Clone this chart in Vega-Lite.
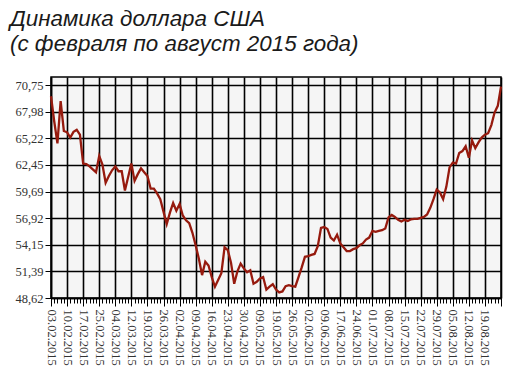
{
  "$schema": "https://vega.github.io/schema/vega-lite/v6.json",
  "width": 450,
  "height": 221,
  "autosize": "none",
  "padding": {"left": 51, "top": 77, "right": 19, "bottom": 92},
  "background": "white",
  "title": {
    "text": ["Динамика доллара США", "(с февраля по август 2015 года)"],
    "anchor": "start",
    "frame": "group",
    "dx": -41,
    "offset": 22,
    "font": "Liberation Sans",
    "fontStyle": "italic",
    "fontWeight": "normal",
    "fontSize": 22.4,
    "lineHeight": 25,
    "color": "#1a1a1a"
  },
  "config": {
    "view": {"fill": "#f5f5f5", "stroke": "#000000", "strokeWidth": 1.5}
  },
  "data": {
    "values": [
      {"date": "03.02.2015", "rate": 69.6},
      {"date": "04.02.2015", "rate": 67.0},
      {"date": "05.02.2015", "rate": 64.7},
      {"date": "06.02.2015", "rate": 69.1},
      {"date": "07.02.2015", "rate": 66.0},
      {"date": "10.02.2015", "rate": 65.85},
      {"date": "11.02.2015", "rate": 65.3},
      {"date": "12.02.2015", "rate": 65.9},
      {"date": "13.02.2015", "rate": 66.1},
      {"date": "14.02.2015", "rate": 65.6},
      {"date": "17.02.2015", "rate": 62.6},
      {"date": "18.02.2015", "rate": 62.55},
      {"date": "19.02.2015", "rate": 62.3},
      {"date": "20.02.2015", "rate": 62.0},
      {"date": "21.02.2015", "rate": 61.7},
      {"date": "25.02.2015", "rate": 63.4},
      {"date": "26.02.2015", "rate": 62.5},
      {"date": "27.02.2015", "rate": 60.6},
      {"date": "28.02.2015", "rate": 61.3},
      {"date": "03.03.2015", "rate": 61.9},
      {"date": "04.03.2015", "rate": 62.3},
      {"date": "05.03.2015", "rate": 61.8},
      {"date": "06.03.2015", "rate": 61.8},
      {"date": "07.03.2015", "rate": 59.8},
      {"date": "11.03.2015", "rate": 61.2},
      {"date": "12.03.2015", "rate": 62.6},
      {"date": "13.03.2015", "rate": 60.8},
      {"date": "14.03.2015", "rate": 61.5},
      {"date": "17.03.2015", "rate": 62.1},
      {"date": "18.03.2015", "rate": 61.7},
      {"date": "19.03.2015", "rate": 61.3},
      {"date": "20.03.2015", "rate": 60.0},
      {"date": "21.03.2015", "rate": 60.0},
      {"date": "24.03.2015", "rate": 59.5},
      {"date": "25.03.2015", "rate": 58.9},
      {"date": "26.03.2015", "rate": 57.6},
      {"date": "27.03.2015", "rate": 56.3},
      {"date": "28.03.2015", "rate": 57.5},
      {"date": "31.03.2015", "rate": 58.5},
      {"date": "01.04.2015", "rate": 57.7},
      {"date": "02.04.2015", "rate": 58.4},
      {"date": "03.04.2015", "rate": 57.2},
      {"date": "04.04.2015", "rate": 56.7},
      {"date": "07.04.2015", "rate": 56.4},
      {"date": "08.04.2015", "rate": 55.4},
      {"date": "09.04.2015", "rate": 54.1},
      {"date": "10.04.2015", "rate": 52.7},
      {"date": "11.04.2015", "rate": 51.0},
      {"date": "14.04.2015", "rate": 52.4},
      {"date": "15.04.2015", "rate": 52.0},
      {"date": "16.04.2015", "rate": 50.8},
      {"date": "17.04.2015", "rate": 49.8},
      {"date": "18.04.2015", "rate": 50.5},
      {"date": "21.04.2015", "rate": 51.2},
      {"date": "22.04.2015", "rate": 53.9},
      {"date": "23.04.2015", "rate": 53.6},
      {"date": "24.04.2015", "rate": 52.3},
      {"date": "25.04.2015", "rate": 50.1},
      {"date": "28.04.2015", "rate": 51.4},
      {"date": "29.04.2015", "rate": 52.2},
      {"date": "30.04.2015", "rate": 51.7},
      {"date": "01.05.2015", "rate": 51.3},
      {"date": "06.05.2015", "rate": 51.5},
      {"date": "07.05.2015", "rate": 50.1},
      {"date": "08.05.2015", "rate": 50.3},
      {"date": "09.05.2015", "rate": 50.65},
      {"date": "13.05.2015", "rate": 50.8},
      {"date": "14.05.2015", "rate": 49.5},
      {"date": "15.05.2015", "rate": 49.8},
      {"date": "16.05.2015", "rate": 50.05},
      {"date": "19.05.2015", "rate": 49.5},
      {"date": "20.05.2015", "rate": 49.2},
      {"date": "21.05.2015", "rate": 49.3},
      {"date": "22.05.2015", "rate": 49.85},
      {"date": "23.05.2015", "rate": 49.95},
      {"date": "26.05.2015", "rate": 49.85},
      {"date": "27.05.2015", "rate": 49.8},
      {"date": "28.05.2015", "rate": 50.8},
      {"date": "29.05.2015", "rate": 51.8},
      {"date": "30.05.2015", "rate": 52.9},
      {"date": "02.06.2015", "rate": 52.97},
      {"date": "03.06.2015", "rate": 53.1},
      {"date": "04.06.2015", "rate": 53.2},
      {"date": "05.06.2015", "rate": 54.0},
      {"date": "06.06.2015", "rate": 55.9},
      {"date": "09.06.2015", "rate": 56.0},
      {"date": "10.06.2015", "rate": 55.8},
      {"date": "11.06.2015", "rate": 54.9},
      {"date": "12.06.2015", "rate": 54.6},
      {"date": "16.06.2015", "rate": 55.2},
      {"date": "17.06.2015", "rate": 54.3},
      {"date": "18.06.2015", "rate": 53.9},
      {"date": "19.06.2015", "rate": 53.5},
      {"date": "20.06.2015", "rate": 53.5},
      {"date": "23.06.2015", "rate": 53.7},
      {"date": "24.06.2015", "rate": 53.8},
      {"date": "25.06.2015", "rate": 54.1},
      {"date": "26.06.2015", "rate": 54.3},
      {"date": "27.06.2015", "rate": 54.7},
      {"date": "30.06.2015", "rate": 54.9},
      {"date": "01.07.2015", "rate": 55.6},
      {"date": "02.07.2015", "rate": 55.5},
      {"date": "03.07.2015", "rate": 55.6},
      {"date": "04.07.2015", "rate": 55.67},
      {"date": "07.07.2015", "rate": 55.85},
      {"date": "08.07.2015", "rate": 57.0},
      {"date": "09.07.2015", "rate": 57.25},
      {"date": "10.07.2015", "rate": 57.05},
      {"date": "11.07.2015", "rate": 56.75},
      {"date": "14.07.2015", "rate": 56.58},
      {"date": "15.07.2015", "rate": 56.75},
      {"date": "16.07.2015", "rate": 56.62},
      {"date": "17.07.2015", "rate": 56.8},
      {"date": "18.07.2015", "rate": 56.85},
      {"date": "21.07.2015", "rate": 56.85},
      {"date": "22.07.2015", "rate": 56.95},
      {"date": "23.07.2015", "rate": 57.05},
      {"date": "24.07.2015", "rate": 57.3},
      {"date": "25.07.2015", "rate": 58.0},
      {"date": "28.07.2015", "rate": 58.9},
      {"date": "29.07.2015", "rate": 59.9},
      {"date": "30.07.2015", "rate": 59.6},
      {"date": "31.07.2015", "rate": 58.9},
      {"date": "01.08.2015", "rate": 60.2},
      {"date": "04.08.2015", "rate": 62.2},
      {"date": "05.08.2015", "rate": 62.7},
      {"date": "06.08.2015", "rate": 62.6},
      {"date": "07.08.2015", "rate": 63.7},
      {"date": "08.08.2015", "rate": 63.9},
      {"date": "11.08.2015", "rate": 64.4},
      {"date": "12.08.2015", "rate": 63.2},
      {"date": "13.08.2015", "rate": 65.0},
      {"date": "14.08.2015", "rate": 64.2},
      {"date": "15.08.2015", "rate": 64.8},
      {"date": "18.08.2015", "rate": 65.3},
      {"date": "19.08.2015", "rate": 65.6},
      {"date": "20.08.2015", "rate": 65.75},
      {"date": "21.08.2015", "rate": 66.6},
      {"date": "22.08.2015", "rate": 67.9},
      {"date": "25.08.2015", "rate": 68.6},
      {"date": "26.08.2015", "rate": 70.6}
    ]
  },
  "mark": {"type": "line", "color": "#961a0e", "strokeWidth": 2.3, "strokeJoin": "miter"},
  "encoding": {
    "x": {
      "field": "date",
      "type": "ordinal",
      "sort": null,
      "scale": {"type": "point", "padding": 0},
      "axis": {
        "title": null,
        "labelAngle": 90,
        "labelAlign": "left",
        "labelBaseline": "middle",
        "labelFont": "Liberation Serif, Times New Roman, serif",
        "labelFontSize": 12.5,
        "labelColor": "#333333",
        "labelPadding": 3,
        "labelOverlap": false,
        "labelExpr": "(indexof(domain('x'), datum.value) % 5 == 0 && indexof(domain('x'), datum.value) < 140) ? datum.value : ''",
        "domainColor": "#000000",
        "domainWidth": 1.5,
        "tickColor": "#000000",
        "tickWidth": 1,
        "tickSize": {"condition": {"test": "indexof(domain('x'), datum.value) % 5 == 0", "value": 8}, "value": 5},
        "grid": true,
        "gridColor": "#000000",
        "gridWidth": 1.6,
        "gridOpacity": {"condition": {"test": "indexof(domain('x'), datum.value) % 5 == 0", "value": 1}, "value": 0}
      }
    },
    "y": {
      "field": "rate",
      "type": "quantitative",
      "scale": {"domain": [48.62, 71.6], "nice": false, "zero": false},
      "axis": {
        "title": null,
        "values": [48.62, 51.39, 54.15, 56.92, 59.69, 62.45, 65.22, 67.98, 70.75],
        "format": ".2f",
        "labelExpr": "replace(datum.label, '.', ',')",
        "labelFont": "Liberation Serif, Times New Roman, serif",
        "labelFontSize": 12.5,
        "labelColor": "#333333",
        "labelPadding": 2,
        "domainColor": "#000000",
        "domainWidth": 1.5,
        "tickColor": "#000000",
        "tickSize": 6,
        "grid": true,
        "gridColor": "#000000",
        "gridWidth": 1.6
      }
    }
  }
}
